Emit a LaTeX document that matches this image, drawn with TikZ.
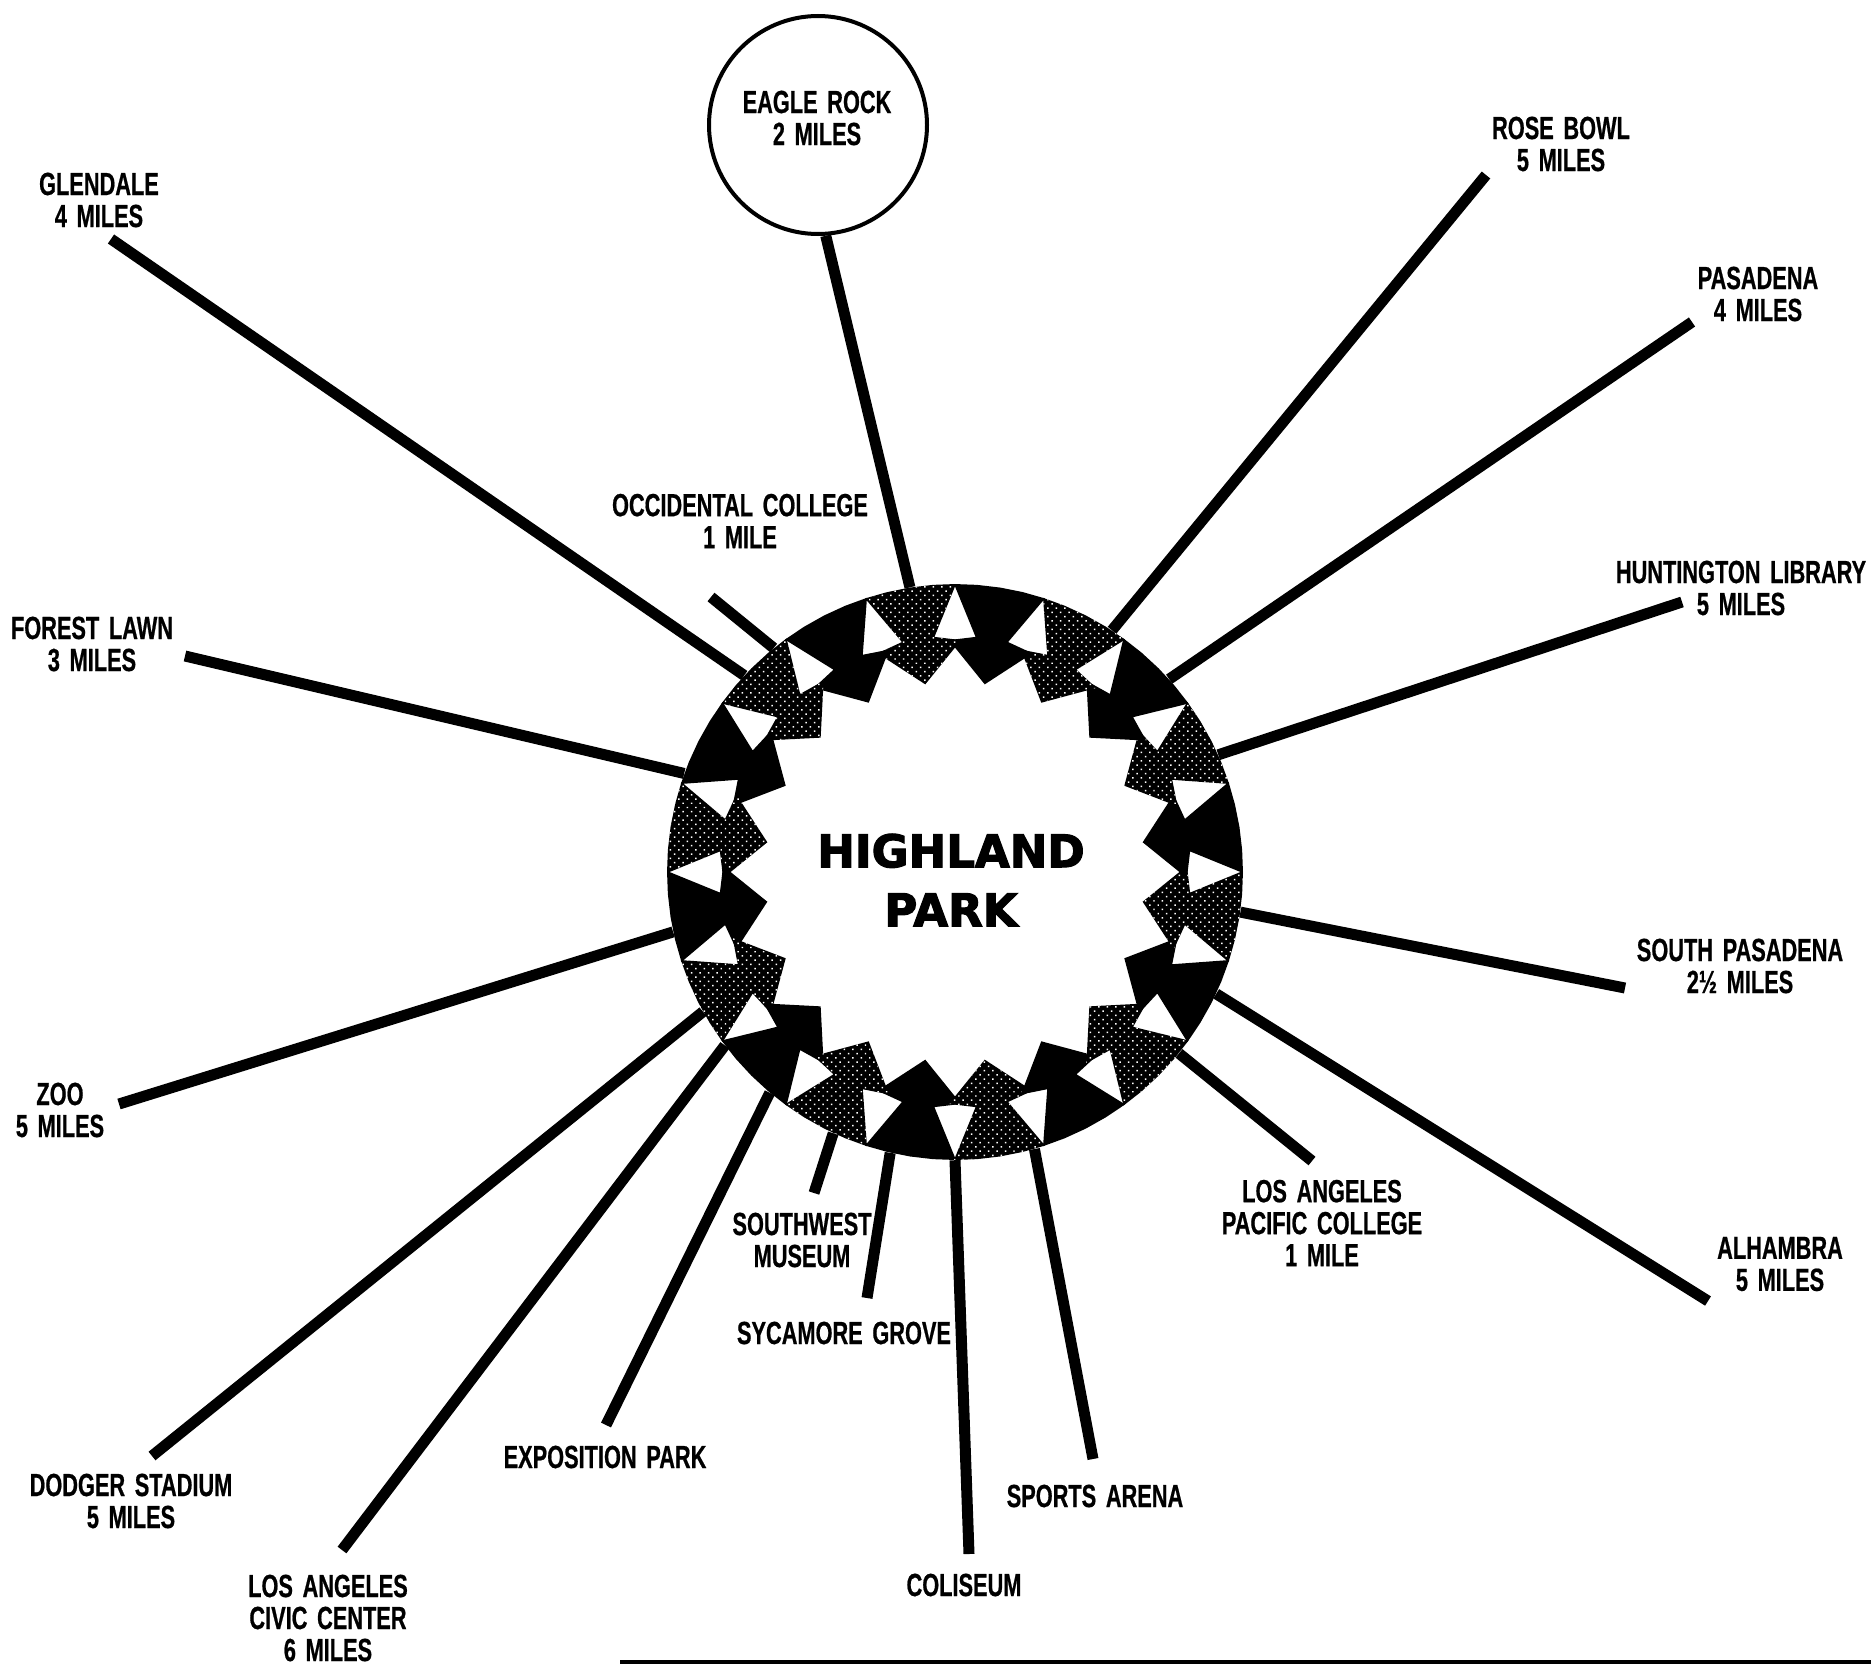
\documentclass[tikz,border=0pt]{standalone}
\usepackage{fontspec}
\usetikzlibrary{patterns.meta}
\newfontfamily\placefont{Liberation Sans}[FakeStretch=0.68,WordSpace=1.6,BoldFeatures={FakeBold=0.6}]
\newfontfamily\titlefont{DejaVu Sans}[BoldFeatures={FakeBold=2.5}]
\begin{document}
\begin{tikzpicture}[x=1pt,y=-1pt]
\tikzset{
  place/.style={align=center,inner sep=0pt,font=\placefont\bfseries\fontsize{32}{32}\selectfont},
  bubble/.style={circle,draw,line width=4pt,minimum size=218pt,inner sep=0pt},
  hub/.style={circle,inner sep=0pt,minimum size=576pt},
  title/.style={align=center,inner sep=0pt,font=\titlefont\bfseries\fontsize{45}{59}\selectfont},
  spoke/.style={line width=11pt},
  solidhead/.style={fill=black},
  dothead/.style={fill=black,postaction={pattern={Dots[radius=1.05pt,distance=6pt,angle=45]},pattern color=white}}
}
\useasboundingbox (0,0) rectangle (1871,1673);
\node[hub] (n_hub) at (955,872) {};
\node[title] (n_title) at (951,880) {HIGHLAND\\PARK};
\node[bubble] (n_eagle) at (818,125) {};
\node[place] (n_eagle_text) at (817,118) {EAGLE ROCK\\2 MILES};
\node[place] (n_glendale) at (99,200) {GLENDALE\\4 MILES};
\node[place] (n_rosebowl) at (1561,144) {ROSE BOWL\\5 MILES};
\node[place] (n_pasadena) at (1758,294) {PASADENA\\4 MILES};
\node[place] (n_occidental) at (740,521) {OCCIDENTAL COLLEGE\\1 MILE};
\node[place] (n_huntington) at (1741,588) {HUNTINGTON LIBRARY\\5 MILES};
\node[place] (n_forestlawn) at (92,644) {FOREST LAWN\\3 MILES};
\node[place] (n_southpas) at (1740,966) {SOUTH PASADENA\\2½ MILES};
\node[place] (n_zoo) at (60,1110) {ZOO\\5 MILES};
\node[place] (n_lapacific) at (1322,1223) {LOS ANGELES\\PACIFIC COLLEGE\\1 MILE};
\node[place] (n_southwest) at (802,1240) {SOUTHWEST\\MUSEUM};
\node[place] (n_alhambra) at (1780,1264) {ALHAMBRA\\5 MILES};
\node[place] (n_sycamore) at (844,1333) {SYCAMORE GROVE};
\node[place] (n_exposition) at (605,1457) {EXPOSITION PARK};
\node[place] (n_dodger) at (131,1501) {DODGER STADIUM\\5 MILES};
\node[place] (n_sportsarena) at (1095,1496) {SPORTS ARENA};
\node[place] (n_civic) at (328,1618) {LOS ANGELES\\CIVIC CENTER\\6 MILES};
\node[place] (n_coliseum) at (964,1585) {COLISEUM};
\coordinate (c_glendale) at (111,239);
\coordinate (c_occidental) at (711,597);
\coordinate (c_forestlawn) at (185,656);
\coordinate (c_zoo) at (119,1104);
\coordinate (c_dodger) at (152,1456);
\coordinate (c_civic) at (342,1550);
\coordinate (c_exposition) at (606,1425);
\coordinate (c_southwest) at (814,1193);
\coordinate (c_sycamore) at (867,1298);
\coordinate (c_coliseum) at (969,1554);
\coordinate (c_sportsarena) at (1093,1459);
\coordinate (c_lapacific) at (1312,1161);
\coordinate (c_alhambra) at (1708,1301);
\coordinate (c_southpas) at (1625,988);
\coordinate (c_huntington) at (1682,602);
\coordinate (c_pasadena) at (1692,322);
\coordinate (c_rosebowl) at (1486,175);
\draw[spoke] (n_eagle.274) -- (n_hub.99);
\draw[spoke] (c_glendale) -- (n_hub.137);
\draw[spoke] (c_occidental) -- (n_hub.129);
\draw[spoke] (c_forestlawn) -- (n_hub.160);
\draw[spoke] (c_zoo) -- (n_hub.192);
\draw[spoke] (c_dodger) -- (n_hub.209);
\draw[spoke] (c_civic) -- (n_hub.217);
\draw[spoke] (c_exposition) -- (n_hub.230);
\draw[spoke] (c_southwest) -- (n_hub.245);
\draw[spoke] (c_sycamore) -- (n_hub.257);
\draw[spoke] (c_coliseum) -- (n_hub.270);
\draw[spoke] (c_sportsarena) -- (n_hub.286);
\draw[spoke] (c_lapacific) -- (n_hub.321);
\draw[spoke] (c_alhambra) -- (n_hub.335);
\draw[spoke] (c_southpas) -- (n_hub.352);
\draw[spoke] (c_huntington) -- (n_hub.24);
\draw[spoke] (c_pasadena) -- (n_hub.42);
\draw[spoke] (c_rosebowl) -- (n_hub.57);
\begin{scope}[shift={(955,872)},yscale=-1]
\foreach \i in {0,...,19}{
  \pgfmathsetmacro{\a}{99-18*\i}
  \ifodd\i\relax\def\headstyle{dothead}\else\def\headstyle{solidhead}\fi
  \fill[\headstyle] ({\a+9.2}:288pt) -- ({\a+4.6}:288pt) -- (\a:288pt) -- ({\a-4.6}:288pt) -- ({\a-9.2}:288pt)
    -- ({\a-4}:236pt) -- ({\a-10.5}:232pt) -- (\a:190pt) -- ({\a+10.5}:232pt) -- ({\a+4}:236pt) -- cycle;
}
\end{scope}
\draw[line width=4pt] (620,1662) -- (1871,1662);
\end{tikzpicture}
\end{document}
